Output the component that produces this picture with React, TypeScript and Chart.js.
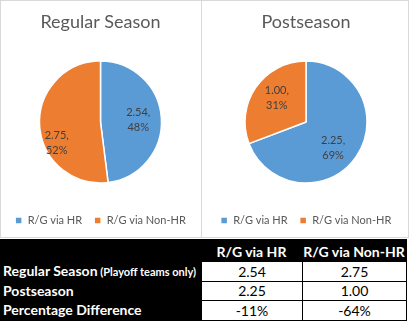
import React, { useEffect, useRef } from 'react';
import { Chart, registerables } from 'chart.js';

Chart.register(...registerables);

// ---- data ----
const legendLabels = ['R/G via HR', 'R/G via Non-HR'];
const chartTitles = ['Regular Season', 'Postseason'];
const regularSeason = [2.54, 2.75];
const postseason = [2.25, 1.0];
const rowLabels = ['Regular Season', 'Postseason', 'Percentage Difference'];
const regularNote = '(Playoff teams only)';
const pctDiff = ['-11%', '-64%'];

const BLUE = '#5B9BD5';
const ORANGE = '#ED7D31';
const FONT = 'Lato, "Open Sans", "Liberation Sans", sans-serif';

const labelPlugin = {
  id: 'pieLabels',
  afterDatasetsDraw(chart: any, _args: any, opts: any) {
    const ctx = chart.ctx;
    const meta = chart.getDatasetMeta(0);
    const values: number[] = chart.data.datasets[0].data;
    const total = values.reduce((a, b) => a + b, 0);
    ctx.save();
    ctx.font = `11px ${FONT}`;
    ctx.fillStyle = '#404040';
    ctx.textAlign = 'center';
    ctx.textBaseline = 'middle';
    meta.data.forEach((arc: any, i: number) => {
      const p = arc.getProps(['x', 'y', 'startAngle', 'endAngle', 'outerRadius'], true);
      const mid = (p.startAngle + p.endAngle) / 2;
      const r = p.outerRadius * opts.radiusFactor;
      const n = (opts.nudges && opts.nudges[i]) || [0, 0];
      const lx = p.x + Math.cos(mid) * r + n[0];
      const ly = p.y + Math.sin(mid) * r + n[1];
      ctx.fillText(values[i].toFixed(2) + ',', lx, ly - 7.5);
      ctx.fillText(Math.round((values[i] / total) * 100) + '%', lx, ly + 7.5);
    });
    ctx.restore();
  },
};

function Pie(props: { title: string; values: number[]; left: number; width: number; nudges: number[][] }) {
  const ref = useRef<HTMLCanvasElement>(null);
  useEffect(() => {
    const chart = new Chart(ref.current as HTMLCanvasElement, {
      type: 'pie',
      data: {
        labels: legendLabels,
        datasets: [
          {
            data: props.values,
            backgroundColor: [BLUE, ORANGE],
            borderColor: '#ffffff',
            borderWidth: 1.5,
          },
        ],
      },
      options: {
        responsive: false,
        animation: false,
        radius: 61,
        layout: { padding: 0 },
        plugins: {
          title: {
            display: true,
            text: props.title,
            color: '#595959',
            font: { family: FONT, size: 18, weight: 'normal' },
            padding: { top: 11, bottom: 8.4 },
          },
          legend: {
            position: 'bottom',
            labels: {
              boxWidth: 7,
              boxHeight: 7,
              padding: 12,
              color: '#595959',
              font: { family: FONT, size: 11 },
            },
          },
          tooltip: { enabled: false },
          pieLabels: { radiusFactor: 0.62, nudges: props.nudges },
        } as any,
      } as any,
      plugins: [labelPlugin],
    });
    return () => chart.destroy();
  }, []);
  return (
    <canvas
      ref={ref}
      width={props.width}
      height={236}
      style={{ position: 'absolute', left: props.left, top: 0, width: props.width, height: 236 }}
    />
  );
}

export default function App() {
  const colX = [0, 201, 302, 406];
  const rowY = [239, 261, 281, 300, 320];
  const cellValues = [
    regularSeason.map((v) => v.toFixed(2)),
    postseason.map((v) => v.toFixed(2)),
    pctDiff,
  ];
  return (
    <div
      style={{
        position: 'absolute',
        left: 0,
        top: 0,
        width: 409,
        height: 321,
        background: '#fff',
        overflow: 'hidden',
        fontFamily: FONT,
      }}
    >
      <div style={{ position: 'absolute', left: 0, top: 0, width: 202, height: 238, border: '1px solid #d9d9d9', boxSizing: 'border-box' }} />
      <div style={{ position: 'absolute', left: 201, top: 0, width: 208, height: 238, border: '1px solid #d9d9d9', boxSizing: 'border-box' }} />
      <Pie title={chartTitles[0]} values={regularSeason} left={0} width={201} nudges={[[0, 0], [-6, 19]]} />
      <Pie title={chartTitles[1]} values={postseason} left={204} width={204} nudges={[[-4, 4], [2, -3]]} />

      {/* table */}
      <div style={{ position: 'absolute', left: 0, top: rowY[0], width: 407, height: rowY[4] - rowY[0] + 1, background: '#000' }} />
      {legendLabels.map((h, j) => (
        <div
          key={'h' + j}
          style={{
            position: 'absolute',
            left: colX[j + 1],
            top: rowY[0],
            width: colX[j + 2] - colX[j + 1],
            height: rowY[1] - rowY[0],
            color: '#fff',
            fontWeight: 'bold',
            fontSize: 14,
            textAlign: 'center',
            lineHeight: '26px',
          }}
        >
          {h}
        </div>
      ))}
      {rowLabels.map((lab, i) => (
        <div
          key={'r' + i}
          style={{
            position: 'absolute',
            left: 3,
            top: rowY[i + 1],
            height: rowY[i + 2] - rowY[i + 1],
            lineHeight: rowY[i + 2] - rowY[i + 1] + 'px',
            color: '#fff',
            fontWeight: 'bold',
            fontSize: 14,
            whiteSpace: 'nowrap',
          }}
        >
          {lab}
          {i === 0 ? <span style={{ fontSize: 11 }}> {regularNote}</span> : null}
        </div>
      ))}
      {cellValues.map((row, i) =>
        row.map((v, j) => (
          <div
            key={'c' + i + '-' + j}
            style={{
              position: 'absolute',
              left: colX[j + 1],
              top: rowY[i + 1],
              width: colX[j + 2] - colX[j + 1] + 1,
              height: rowY[i + 2] - rowY[i + 1] + 1,
              boxSizing: 'border-box',
              border: '1px solid #000',
              background: '#fff',
              color: '#000',
              fontSize: 14,
              textAlign: 'center',
              lineHeight: rowY[i + 2] - rowY[i + 1] - 1 + 'px',
            }}
          >
            {v}
          </div>
        ))
      )}
    </div>
  );
}
